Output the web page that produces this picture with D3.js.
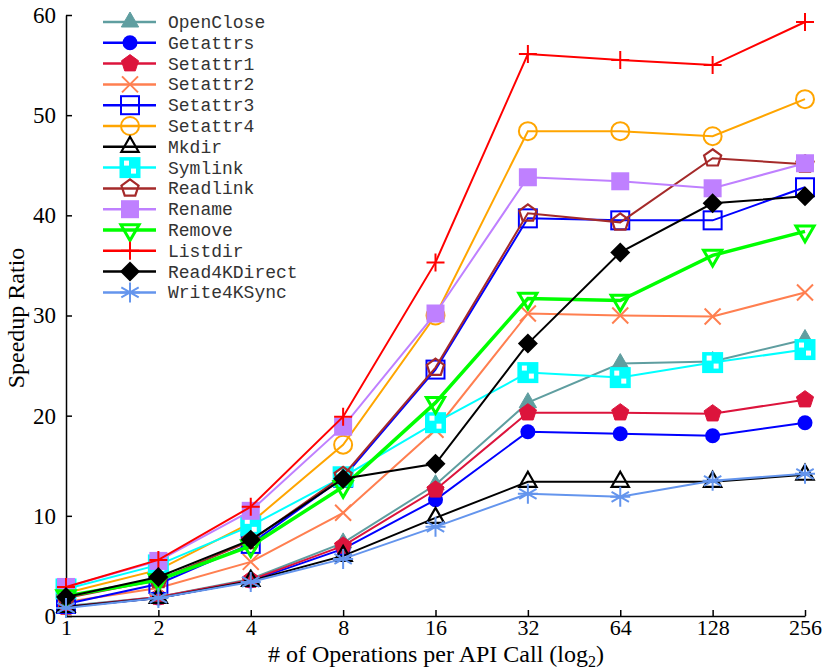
<!DOCTYPE html>
<html>
<head>
<meta charset="utf-8">
<script src="https://cdn.jsdelivr.net/npm/d3@7"></script>
<style>
  body { margin: 0; background: #fff; }
  svg { display: block; }
  .axis text { font-family: "Liberation Serif", "Times New Roman", serif; font-size: 23px; fill: #000; }
  .axis.xaxis text { font-size: 22px; }
  .axis path, .axis line { stroke: #000; stroke-width: 1.5; }
  .title { font-family: "Liberation Serif", "Times New Roman", serif; font-size: 24px; fill: #000; }
  .legend text { font-family: "Liberation Mono", "Courier New", monospace; font-size: 18px; fill: #333; }
</style>
</head>
<body>
<svg width="825" height="669"></svg>
<script>
const opsPerCall = [1, 2, 4, 8, 16, 32, 64, 128, 256]
const yTicks = [0, 10, 20, 30, 40, 50, 60]

const seriesNames = ['OpenClose', 'Getattrs', 'Setattr1', 'Setattr2', 'Setattr3', 'Setattr4', 'Mkdir',
  'Symlink', 'Readlink', 'Rename', 'Remove', 'Listdir', 'Read4KDirect', 'Write4KSync']

const openClose    = [1.0, 1.9, 3.7, 7.3, 13.1, 21.3, 25.2, 25.4, 27.6]
const getattrs     = [0.9, 1.8, 3.5, 6.7, 11.6, 18.4, 18.2, 18.0, 19.3]
const setattr1     = [0.9, 1.9, 3.6, 7.0, 12.6, 20.3, 20.3, 20.2, 21.6]
const setattr2     = [1.4, 2.8, 5.4, 10.3, 18.6, 30.2, 30.0, 29.9, 32.3]
const setattr3     = [1.2, 3.2, 7.2, 13.8, 24.6, 39.7, 39.5, 39.5, 42.8]
const setattr4     = [2.3, 4.6, 9.3, 17.1, 30.0, 48.4, 48.4, 47.9, 51.6]
const mkdir        = [0.9, 1.8, 3.5, 6.0, 9.8, 13.4, 13.4, 13.4, 14.1]
const symlink      = [2.7, 5.1, 9.0, 13.9, 19.3, 24.3, 23.8, 25.3, 26.6]
const readlink     = [1.8, 3.6, 7.5, 14.0, 24.8, 40.2, 39.3, 45.7, 45.1]
const rename       = [2.9, 5.5, 10.5, 18.9, 30.2, 43.8, 43.4, 42.7, 45.2]
const remove       = [2.0, 3.6, 7.0, 12.9, 21.3, 31.7, 31.5, 36.0, 38.4]
const listdir      = [2.9, 5.6, 10.9, 19.9, 35.3, 56.1, 55.5, 55.0, 59.3]
const read4KDirect = [1.9, 3.9, 7.6, 13.7, 15.2, 27.2, 36.3, 41.2, 41.9]
const write4KSync  = [0.8, 1.8, 3.4, 5.7, 8.9, 12.2, 11.9, 13.5, 14.2]

const seriesValues = [openClose, getattrs, setattr1, setattr2, setattr3, setattr4, mkdir,
  symlink, readlink, rename, remove, listdir, read4KDirect, write4KSync]

// look of each series: colour, marker, line width
const styles = [
  { color: '#5f9ea0', marker: 'triUp', fill: true, lw: 2 },
  { color: '#0000ff', marker: 'circle', fill: true, lw: 2 },
  { color: '#dc143c', marker: 'pentagon', fill: true, lw: 2 },
  { color: '#ff7f50', marker: 'x', fill: false, lw: 2 },
  { color: '#0000ff', marker: 'square', fill: false, lw: 2 },
  { color: '#ffa500', marker: 'bigCircle', fill: false, lw: 2 },
  { color: '#000000', marker: 'triUp', fill: false, lw: 2 },
  { color: '#00ffff', marker: 'symlink', fill: true, lw: 2 },
  { color: '#a52a2a', marker: 'pentagon', fill: false, lw: 2 },
  { color: '#bf80ff', marker: 'bigSquare', fill: true, lw: 2 },
  { color: '#00ff00', marker: 'triDown', fill: false, lw: 3.5 },
  { color: '#ff0000', marker: 'plus', fill: false, lw: 2 },
  { color: '#000000', marker: 'diamond', fill: true, lw: 2 },
  { color: '#6495ed', marker: 'asterisk', fill: false, lw: 2 },
]

const series = seriesNames.map((name, i) => ({
  name: name,
  values: seriesValues[i].map((v, j) => ({ x: opsPerCall[j], y: v })),
  style: styles[i]
}))

const svg = d3.select('svg')

const x = d3.scaleLog().base(2)
  .domain([1, 256])
  .range([66, 805])

const y = d3.scaleLinear()
  .domain([0, 60])
  .range([616, 15])

// axes, ticks pointing inward
svg.append('g')
  .attr('class', 'axis')
  .attr('transform', 'translate(66,0)')
  .call(d3.axisLeft(y).tickValues(yTicks).tickSizeInner(-6).tickSizeOuter(0).tickPadding(10))

svg.append('g')
  .attr('class', 'axis xaxis')
  .attr('transform', 'translate(0,616)')
  .call(d3.axisBottom(x).tickValues(opsPerCall).tickFormat(d3.format('d'))
    .tickSizeInner(-6).tickSizeOuter(0).tickPadding(3))

svg.append('text')
  .attr('class', 'title')
  .attr('text-anchor', 'middle')
  .attr('transform', 'translate(24,318) rotate(-90)')
  .text('Speedup Ratio')

const xTitle = svg.append('text')
  .attr('class', 'title')
  .attr('text-anchor', 'middle')
  .attr('x', 436)
  .attr('y', 662)
xTitle.append('tspan').text('# of Operations per API Call (log')
xTitle.append('tspan').attr('font-size', '16px').attr('dy', 5).text('2')
xTitle.append('tspan').attr('dy', -5).text(')')

// marker drawing
function drawMarker(g, st) {
  const c = st.color
  const poly = (pts) => 'M' + pts.map(p => p.join(',')).join('L') + 'Z'
  const ngon = (n, r, rot) => d3.range(n).map(k => {
    const a = rot + k * 2 * Math.PI / n
    return [r * Math.cos(a), r * Math.sin(a)]
  })
  switch (st.marker) {
    case 'triUp':
      g.append('path').attr('d', poly(ngon(3, 10, -Math.PI / 2)))
        .attr('fill', st.fill ? c : 'none').attr('stroke', c).attr('stroke-width', st.fill ? 1 : 2.2)
      break
    case 'triDown':
      g.append('path').attr('d', poly(ngon(3, 10.5, Math.PI / 2)))
        .attr('fill', 'none').attr('stroke', c).attr('stroke-width', 3)
      break
    case 'circle':
      g.append('circle').attr('r', 7.5).attr('fill', c)
      break
    case 'bigCircle':
      g.append('circle').attr('r', 9).attr('fill', 'none').attr('stroke', c).attr('stroke-width', 2)
      break
    case 'pentagon':
      g.append('path').attr('d', poly(ngon(5, 9, -Math.PI / 2)))
        .attr('fill', st.fill ? c : 'none').attr('stroke', c).attr('stroke-width', st.fill ? 1 : 2.2)
      break
    case 'x':
      g.append('path').attr('d', 'M-8,-8L8,8M-8,8L8,-8')
        .attr('stroke', c).attr('stroke-width', 2)
      break
    case 'plus':
      g.append('path').attr('d', 'M-9,0L9,0M0,-9L0,9')
        .attr('stroke', c).attr('stroke-width', 2)
      break
    case 'square':
      g.append('rect').attr('x', -9).attr('y', -9).attr('width', 18).attr('height', 18)
        .attr('fill', 'none').attr('stroke', c).attr('stroke-width', 2)
      break
    case 'bigSquare':
      g.append('rect').attr('x', -9).attr('y', -9).attr('width', 18).attr('height', 18).attr('fill', c)
      break
    case 'symlink':
      g.append('rect').attr('x', -10.5).attr('y', -10.5).attr('width', 21).attr('height', 21).attr('fill', c)
      g.append('rect').attr('x', -6).attr('y', -7).attr('width', 5).attr('height', 5).attr('fill', '#fff')
      g.append('rect').attr('x', 1).attr('y', 1).attr('width', 5).attr('height', 5).attr('fill', '#fff')
      break
    case 'diamond':
      g.append('path').attr('d', 'M0,-10L10,0L0,10L-10,0Z').attr('fill', c)
      break
    case 'asterisk':
      g.append('path').attr('d', 'M0,-10L0,10M-8.7,-5L8.7,5M-8.7,5L8.7,-5M-10,0L10,0')
        .attr('stroke', c).attr('stroke-width', 2)
      break
  }
}

const line = d3.line().x(d => x(d.x)).y(d => y(d.y))

series.forEach(s => {
  const g = svg.append('g')
  g.append('path')
    .datum(s.values)
    .attr('d', line)
    .attr('fill', 'none')
    .attr('stroke', s.style.color)
    .attr('stroke-width', s.style.lw)
  g.selectAll('g.pt')
    .data(s.values)
    .enter()
    .append('g')
    .attr('class', 'pt')
    .attr('transform', d => `translate(${x(d.x)},${y(d.y)})`)
    .each(function () { drawMarker(d3.select(this), s.style) })
})

// legend
const legend = svg.append('g').attr('class', 'legend')
const rows = legend.selectAll('g')
  .data(series)
  .enter()
  .append('g')
  .attr('transform', (d, i) => `translate(0,${22 + i * 20.8})`)

rows.append('line')
  .attr('x1', 103).attr('x2', 156)
  .attr('stroke', d => d.style.color)
  .attr('stroke-width', d => d.style.lw === 2 ? 2.5 : d.style.lw)

rows.append('g')
  .attr('transform', 'translate(130,0)')
  .each(function (d) { drawMarker(d3.select(this), d.style) })

rows.append('text')
  .attr('x', 168)
  .attr('y', 6)
  .text(d => d.name)
</script>
</body>
</html>
